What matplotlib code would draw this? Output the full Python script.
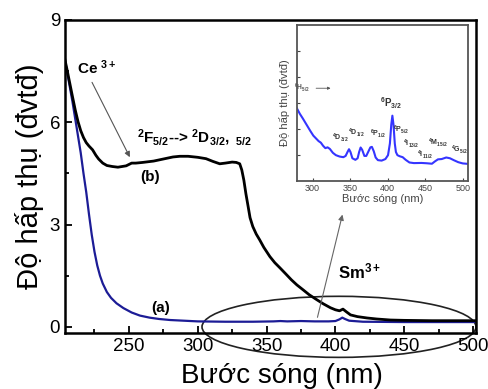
import numpy as np
import matplotlib
matplotlib.use('Agg')
import matplotlib.pyplot as plt
from matplotlib.patches import Ellipse

plt.rcParams['font.family'] = ['Liberation Sans', 'DejaVu Sans']
plt.rcParams['mathtext.fontset'] = 'custom'
plt.rcParams['mathtext.rm'] = 'Liberation Sans'
plt.rcParams['mathtext.bf'] = 'Liberation Sans:bold'
plt.rcParams['mathtext.it'] = 'Liberation Sans:italic'

# (a) blue curve
wl_a = [203, 205, 207, 209, 211, 213, 215, 217, 219, 221, 223, 225, 227, 229, 231,
        234, 237, 241, 246, 252, 258, 265, 272, 280, 290, 300, 320, 340, 355, 360,
        365, 375, 385, 395, 400, 403, 405, 407, 410, 420, 450, 480, 502]
abs_a = [7.93, 7.5, 7.05, 6.6, 6.1, 5.6, 5.1, 4.5, 3.95, 3.3, 2.7, 2.2, 1.8, 1.5, 1.27,
         1.02, 0.85, 0.69, 0.55, 0.42, 0.33, 0.27, 0.23, 0.2, 0.18, 0.16, 0.15, 0.15,
         0.16, 0.17, 0.16, 0.17, 0.16, 0.16, 0.17, 0.22, 0.27, 0.23, 0.18, 0.15, 0.14,
         0.14, 0.14]

# (b) black curve
wl_b = [203, 205, 207, 209, 211, 213, 215, 217, 219, 221, 223.6, 226, 228, 231, 234,
        238, 242, 245, 248, 252, 255, 260, 268, 275, 282, 287, 293, 300, 306, 311,
        316, 320, 325, 328, 330.5, 332, 333.5, 335, 336.6, 338, 340, 342.5, 345, 348,
        352.4, 356, 359.7, 364, 368, 372, 376.7, 381, 386.7, 391, 396.4, 400, 403,
        405.5, 408, 411, 416, 423, 430, 440, 450, 470, 502]
abs_b = [7.93, 7.55, 7.15, 6.75, 6.36, 6.02, 5.75, 5.55, 5.4, 5.3, 5.19, 5.03, 4.92,
         4.8, 4.73, 4.7, 4.68, 4.7, 4.72, 4.8, 4.8, 4.82, 4.86, 4.92, 4.98, 5.0, 5.0,
         4.97, 4.93, 4.85, 4.78, 4.8, 4.83, 4.82, 4.78, 4.6, 4.3, 3.9, 3.53, 3.2, 2.94,
         2.72, 2.55, 2.33, 2.06, 1.88, 1.73, 1.55, 1.38, 1.23, 1.08, 0.94, 0.79, 0.68,
         0.56, 0.5, 0.47, 0.52, 0.44, 0.35, 0.3, 0.26, 0.23, 0.2, 0.19, 0.18, 0.18]

# inset (Sm3+ region), relative units
wl_in = [279, 283, 287, 292, 297, 301, 305, 308, 311, 314, 317, 320, 323, 327, 331,
         336, 341, 344, 346.5, 348.5, 350.5, 353, 357, 360, 362, 364, 366, 369, 371.5,
         374, 377, 379, 381.5, 384, 387, 392, 397, 400.5, 403, 404.8, 406.3, 407.8,
         409.5, 411, 413, 416, 420, 424, 429, 435, 445, 452, 459, 463, 467, 472, 478,
         483, 488, 494, 500, 507]
abs_in = [0.466, 0.43, 0.40, 0.36, 0.32, 0.29, 0.27, 0.255, 0.245, 0.225, 0.21, 0.215,
          0.205, 0.18, 0.165, 0.156, 0.152, 0.16, 0.185, 0.203, 0.185, 0.145, 0.135,
          0.145, 0.185, 0.214, 0.2, 0.16, 0.16, 0.185, 0.215, 0.218, 0.19, 0.15, 0.133,
          0.13, 0.14, 0.165, 0.24, 0.36, 0.418, 0.36, 0.24, 0.185, 0.165, 0.158, 0.152,
          0.135, 0.118, 0.114, 0.115, 0.113, 0.11, 0.125, 0.138, 0.14, 0.15, 0.145,
          0.133, 0.12, 0.112, 0.109]

terms = [r'$\mathbf{^4D_{3/2}}$', r'$\mathbf{^4D_{1/2}}$', r'$\mathbf{^6P_{1/2}}$',
         r'$\mathbf{^6P_{3/2}}$', r'$\mathbf{^6P_{5/2}}$', r'$\mathbf{^4I_{13/2}}$',
         r'$\mathbf{^4I_{11/2}}$', r'$\mathbf{^4M_{15/2}}$', r'$\mathbf{^4G_{5/2}}$']
term_x = [337.5, 358.5, 387, 404, 418.5, 431, 450, 467, 496]
term_y = [0.235, 0.268, 0.26, 0.45, 0.29, 0.2, 0.13, 0.203, 0.16]

fig = plt.figure(figsize=(4.89, 3.89), dpi=100)
ax = fig.add_axes([0.133, 0.144, 0.840, 0.805])

ax.plot(wl_a, abs_a, color='#1c1c96', lw=1.6)
ax.plot(wl_b, abs_b, color='black', lw=2.0)

ax.set_xlim(203.6, 502)
ax.set_ylim(-0.18, 9)
ax.set_xticks([250, 300, 350, 400, 450, 500])
ax.set_xticks([225, 275, 325, 375, 425, 475], minor=True)
ax.set_yticks([0, 3, 6, 9])
ax.set_yticks([1.5, 4.5, 7.5], minor=True)
ax.tick_params(which='both', direction='in', labelsize=13.5, width=1.3)
ax.tick_params(which='major', length=5)
ax.tick_params(which='minor', length=3)
for s in ax.spines.values():
    s.set_linewidth(1.8)

ax.set_xlabel('Bước sóng (nm)', fontsize=20)
ax.xaxis.set_label_coords(0.528, -0.095)
ax.set_ylabel('Độ hấp thụ (đvtđ)', fontsize=21, labelpad=4)

# annotations
ax.annotate('', xy=(251.6, 4.9), xytext=(222.3, 7.24),
            arrowprops=dict(arrowstyle='-|>', color='#555555', lw=0.8,
                            mutation_scale=8))
ax.text(212.1, 7.6, r'Ce $\mathbf{^{3+}}$', fontsize=11, fontweight='bold',
        va='center', ha='left')
ax.text(256, 5.55, r'$\mathbf{^2F_{5/2}}$--> $\mathbf{^2D_{3/2},\ _{5/2}}$',
        fontsize=11, fontweight='bold', va='center', ha='left')
ax.text(265.6, 4.4, '(b)', fontsize=11, fontweight='bold', ha='center', va='center')
ax.text(272.8, 0.56, '(a)', fontsize=11, fontweight='bold', ha='center', va='center')
ax.text(401.6, 1.62, r'Sm$\mathbf{^{3+}}$', fontsize=12, fontweight='bold',
        ha='left', va='center')

ell = Ellipse((402.6, 0.0), 199, 1.79, fill=False, edgecolor='#222222', lw=1.2,
              clip_on=False)
ax.add_patch(ell)
ax.annotate('', xy=(405.6, 3.37), xytext=(386.5, 0.2),
            arrowprops=dict(arrowstyle='-|>', color='#666666', lw=0.8,
                            mutation_scale=8))

# inset
axi = fig.add_axes([0.607, 0.535, 0.350, 0.401])
axi.plot(wl_in, abs_in, color='#3535ff', lw=1.5)
axi.set_xlim(279, 507)
axi.set_ylim(0, 1)
axi.set_xticks([300, 350, 400, 450, 500])
axi.set_yticks(np.arange(1, 6) / 6)
axi.set_yticklabels([])
axi.tick_params(direction='in', labelsize=6.5, length=2.5, color='#444444',
                labelcolor='#444444', pad=2)
for s in axi.spines.values():
    s.set_linewidth(1.3)
    s.set_color('#555555')
axi.set_xlabel('Bước sóng (nm)', fontsize=8, color='#444444', labelpad=1)
axi.set_ylabel('Độ hấp thụ (đvtđ)', fontsize=8, color='#444444', labelpad=3)

for t, x, y in zip(terms, term_x, term_y):
    fs = 7 if '^6P_{3/2}' in t else 5.0
    axi.text(x, y, t, fontsize=fs, color='#333333', ha='center', va='bottom')
axi.text(285.6, 0.594, r'$\mathbf{^6H_{5/2}}$', fontsize=4.8, color='#555555',
         ha='center', va='center')
axi.annotate('', xy=(327.7, 0.594), xytext=(301, 0.594),
             arrowprops=dict(arrowstyle='-|>', color='#555555', lw=0.6,
                             mutation_scale=4))

fig.savefig('out.png', dpi=100)
